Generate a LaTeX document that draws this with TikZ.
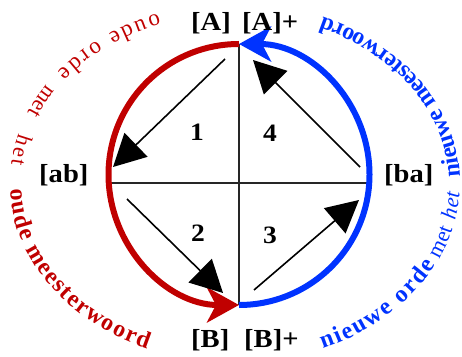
\documentclass[tikz,border=0pt]{standalone}
\usepackage{fontspec}
\setmainfont{Liberation Serif}
\newfontfamily\lblfont[FakeStretch=1.1]{Liberation Serif}
\usetikzlibrary{arrows.meta,decorations.text}
\definecolor{myred}{RGB}{192,0,0}
\definecolor{myblue}{RGB}{0,51,255}
\newcommand\myarctext[4]{%
  \path[decorate, decoration={text along path, text align={fit to path},
    text={|#1|#4}}] (#2:225 and 180) arc[start angle=#2, end angle=#3, x radius=225, y radius=180];}
\begin{document}
\begin{tikzpicture}[x=1pt,y=1pt,
  lbl/.style={font=\lblfont\fontsize{26}{26}\selectfont\bfseries, inner sep=0pt, anchor=base west},
  num/.style={font=\lblfont\fontsize{25}{25}\selectfont\bfseries, inner sep=0pt},
  gridline/.style={line width=2.4pt, black!85},
  inarrow/.style={line width=1.6pt, -{Triangle[length=32pt,width=33pt]}},
  bigarc/.style={line width=6pt, -{Stealth[length=32pt,width=35pt,inset=9pt]}},
]
\useasboundingbox (0,0) rectangle (462,356);
\coordinate (T) at (239,312);
\coordinate (B) at (239,51);
\coordinate (L) at (109,173);
\coordinate (R) at (369,173);
\draw[gridline] (T) -- (B);
\draw[gridline] (L) -- (R);
\draw[bigarc, myred] (T) arc[start angle=90, end angle=270, radius=130.5];
\draw[bigarc, myblue] (B) arc[start angle=-90, end angle=90, radius=130.5];
% inner arrows
\coordinate (a1s) at (225,297); \coordinate (a1e) at (113,189);
\coordinate (a2s) at (127,157); \coordinate (a2e) at (223,63);
\coordinate (a3s) at (254,66);  \coordinate (a3e) at (359,156);
\coordinate (a4s) at (360,189); \coordinate (a4e) at (253,296);
\draw[inarrow] (a1s) -- (a1e);
\draw[inarrow] (a2s) -- (a2e);
\draw[inarrow] (a3s) -- (a3e);
\draw[inarrow] (a4s) -- (a4e);
% numbers
\node[num] (n1) at (197,224) {1};
\node[num] (n4) at (270,223) {4};
\node[num] (n2) at (198,123) {2};
\node[num] (n3) at (270,121) {3};
% labels
\node[lbl] (A)  at (191,325) {[A]};
\node[lbl] (Ap) at (242,325) {[A]+};
\node[lbl] (ab) at (39,173.5) {[ab]};
\node[lbl] (ba) at (384,173.5) {[ba]};
\node[lbl] (Bl) at (191,8.5) {[B]};
\node[lbl] (Bp) at (244,8.5) {[B]+};
% curved texts
\begin{scope}[shift={(235,173)}]
\myarctext{\color{myred}\fontsize{23}{23}\selectfont}{110}{142}{oude orde}
\myarctext{\color{myred}\fontsize{22}{22}\selectfont}{147}{157}{met}
\myarctext{\color{myred}\fontsize{22}{22}\selectfont}{164}{174}{het}
\myarctext{\color{myred}\fontsize{24}{24}\selectfont\bfseries}{182}{247}{oude meesterwoord}
\myarctext{\color{myblue}\fontsize{24}{24}\selectfont\bfseries}{-67}{-27}{nieuwe orde}
\myarctext{\color{myblue}\fontsize{22}{22}\selectfont}{-25}{-15}{met}
\myarctext{\color{myblue}\fontsize{22}{22}\selectfont\itshape}{-12}{-3}{het}
\myarctext{\color{myblue}\fontsize{24}{24}\selectfont\bfseries}{2}{67}{nieuwe meesterwoord}
\end{scope}
\end{tikzpicture}
\end{document}
